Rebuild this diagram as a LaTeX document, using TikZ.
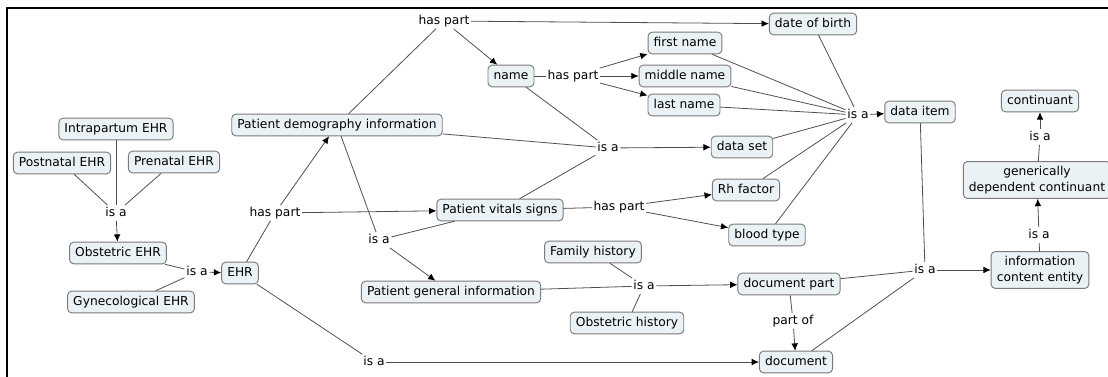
\documentclass[tikz,border=0pt]{standalone}
\usepackage{fontspec}
\setmainfont{DejaVu Sans}
\usetikzlibrary{arrows.meta}
\definecolor{boxfill}{HTML}{EBF2F5}
\definecolor{boxline}{HTML}{7A7A7A}
\definecolor{linkc}{HTML}{505050}
\begin{document}
\begin{tikzpicture}[x=0.75pt,y=-0.75pt,
  concept/.style={draw=boxline,fill=boxfill,rounded corners=3pt,line width=0.7pt,
    font=\fontsize{9.2}{10.5}\selectfont,text height=7pt,text depth=2pt,inner xsep=4.2pt,inner ysep=3.6pt,align=center},
  concept2/.style={draw=boxline,fill=boxfill,rounded corners=3pt,line width=0.7pt,
    font=\fontsize{9.2}{11.5}\selectfont,inner xsep=4.2pt,inner ysep=3.6pt,align=center},
  lbl/.style={font=\fontsize{9.2}{10.5}\selectfont,text height=7pt,text depth=2pt,inner sep=1.2pt},
  ln/.style={draw=linkc,line width=0.6pt},
  ar/.style={draw=linkc,line width=0.6pt,-{Latex[length=5.5pt,width=5pt,color=black]}}]
\useasboundingbox (0,0) rectangle (1108,377);
\draw[line width=1.6pt] (7,377) -- (7,8) -- (1108,8);
% concepts
\node[concept] (intra) at (116,129) {Intrapartum EHR};
\node[concept] (post) at (62,163) {Postnatal EHR};
\node[concept] (pre) at (174,162) {Prenatal EHR};
\node[concept] (obst) at (118,253) {Obstetric EHR};
\node[concept] (gyn) at (131,302) {Gynecological EHR};
\node[concept] (ehr) at (240,273) {EHR};
\node[concept] (pdi) at (337,125) {Patient demography information};
\node[concept] (dob) at (813,24) {date of birth};
\node[concept] (name) at (511,76) {name};
\node[concept] (first) at (685,43) {first name};
\node[concept] (middle) at (685,76) {middle name};
\node[concept] (last) at (684,105) {last name};
\node[concept] (dset) at (742,147) {data set};
\node[concept] (ditem) at (920,112) {data item};
\node[concept] (cont) at (1040,101) {continuant};
\node[concept2] (gdc) at (1037,180) {generically\\dependent continuant};
\node[concept2] (ice) at (1040,270) {information\\content entity};
\node[concept] (pvs) at (500,210) {Patient vitals signs};
\node[concept] (rh) at (746,190) {Rh factor};
\node[concept] (blood) at (767,235) {blood type};
\node[concept] (pgi) at (451,292) {Patient general information};
\node[concept] (fam) at (593,252) {Family history};
\node[concept] (obh) at (627,323) {Obstetric history};
\node[concept] (dpart) at (789,284) {document part};
\node[concept] (doc) at (796,362) {document};
% linking phrases
\node[lbl] (l1) at (116,213) {is a};
\node[lbl] (l2) at (197,272) {is a};
\node[lbl] (l3) at (275,213) {has part};
\node[lbl] (l4) at (444,21) {has part};
\node[lbl] (l5) at (573,76) {has part};
\node[lbl] (l6) at (608,148) {is a};
\node[lbl] (l7) at (858,115) {is a};
\node[lbl] (l8) at (1040,137) {is a};
\node[lbl] (l9) at (1039,235) {is a};
\node[lbl] (l10) at (925,270) {is a};
\node[lbl] (l11) at (619,207) {has part};
\node[lbl] (l12) at (379,240) {is a};
\node[lbl] (l13) at (644,286) {is a};
\node[lbl] (l14) at (793,321) {part of};
\node[lbl] (l15) at (374,362) {is a};
% connections
\draw[ln] (intra) -- (l1); \draw[ln] (post) -- (l1); \draw[ln] (pre) -- (l1);
\draw[ar] (l1) -- (obst);
\draw[ln] (obst) -- (l2); \draw[ln] (gyn) -- (l2);
\draw[ar] (l2) -- (ehr);
\draw[ln] (ehr) -- (l3);
\draw[ar] (l3) -- (pdi);
\draw[ar] (l3) -- (pvs);
\draw[ln] (ehr) -- (l15);
\draw[ar] (l15) -- (doc);
\draw[ln] (pdi) -- (l4);
\draw[ar] (l4) -- (dob);
\draw[ar] (l4) -- (name);
\draw[ln] (name) -- (l5);
\draw[ar] (l5) -- (first); \draw[ar] (l5) -- (middle); \draw[ar] (l5) -- (last);
\draw[ln] (pdi) -- (l6); \draw[ln] (name) -- (l6); \draw[ln] (pvs) -- (l6);
\draw[ar] (l6) -- (dset);
\foreach \n in {dob,first,middle,last,dset,rh,blood} \draw[ln] (\n) -- (l7);
\draw[ar] (l7) -- (ditem);
\draw[ln] (pdi) -- (l12); \draw[ln] (pvs) -- (l12);
\draw[ar] (l12) -- (pgi);
\draw[ln] (pvs) -- (l11);
\draw[ar] (l11) -- (rh); \draw[ar] (l11) -- (blood);
\draw[ln] (pgi) -- (l13); \draw[ln] (fam) -- (l13); \draw[ln] (obh) -- (l13);
\draw[ar] (l13) -- (dpart);
\draw[ln] (dpart) -- (l14);
\draw[ar] (l14) -- (doc);
\draw[ln] (ditem) -- (l10); \draw[ln] (dpart) -- (l10); \draw[ln] (doc) -- (l10);
\draw[ar] (l10) -- (ice);
\draw[ln] (ice) -- (l9);
\draw[ar] (l9) -- (gdc);
\draw[ln] (gdc) -- (l8);
\draw[ar] (l8) -- (cont);
\end{tikzpicture}
\end{document}
